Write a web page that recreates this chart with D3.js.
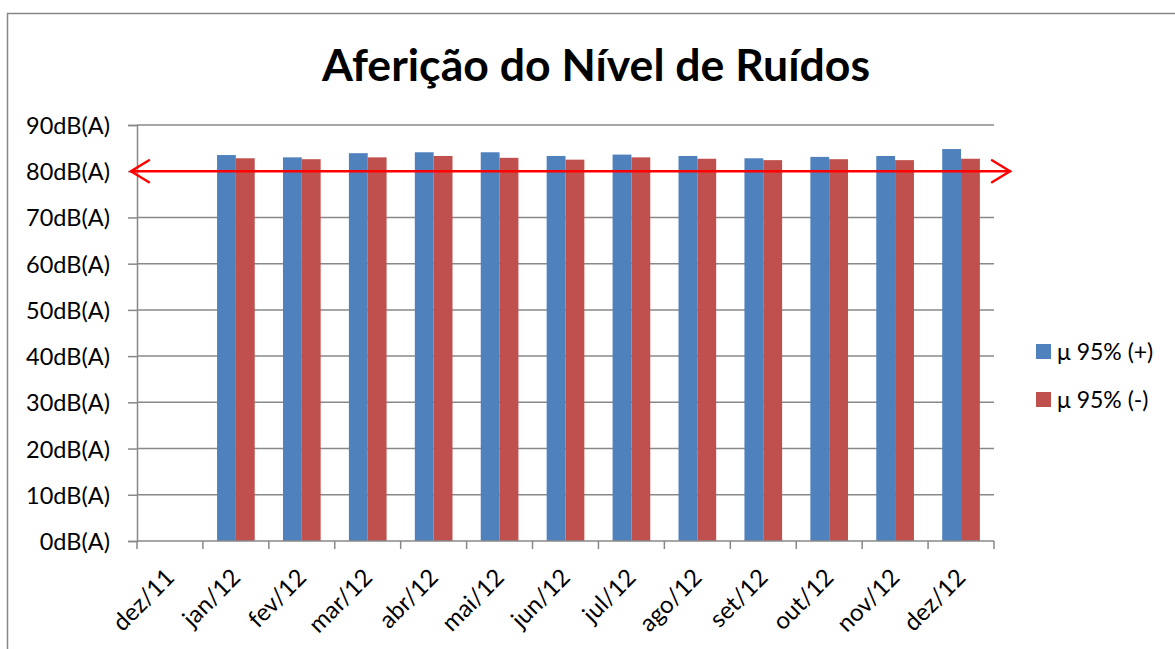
<!DOCTYPE html>
<html>
<head>
<meta charset="utf-8">
<script src="https://cdn.jsdelivr.net/npm/d3@7"></script>
<style>
  body { margin: 0; background: #fff; }
  svg text { font-family: Lato, "Open Sans", sans-serif; fill: #000; }
</style>
</head>
<body>
<svg id="chart" width="1175" height="649"></svg>
<script>
// data
var months = ['dez/11', 'jan/12', 'fev/12', 'mar/12', 'abr/12', 'mai/12', 'jun/12',
              'jul/12', 'ago/12', 'set/12', 'out/12', 'nov/12', 'dez/12'];
var seriesNames = ['μ 95% (+)', 'μ 95% (-)'];
var plusValues  = [null, 83.5, 83.0, 83.9, 84.1, 84.1, 83.3, 83.6, 83.3, 82.8, 83.1, 83.3, 84.8];
var minusValues = [null, 82.8, 82.6, 83.0, 83.3, 82.9, 82.5, 83.0, 82.7, 82.4, 82.6, 82.4, 82.7];
var yTicks = [0, 10, 20, 30, 40, 50, 60, 70, 80, 90];
var limitValue = 80;
var colors = ['#4F81BD', '#C0504D'];

var svg = d3.select('#chart');
var margin = { left: 137, right: 994, top: 125, bottom: 541 };

// outer chart frame
svg.append('rect')
    .attr('x', 7.5).attr('y', 13.5)
    .attr('width', 1175).attr('height', 700)
    .attr('fill', 'none')
    .attr('stroke', '#888').attr('stroke-width', 1.5);

svg.append('text')
    .attr('x', 596).attr('y', 81)
    .attr('text-anchor', 'middle')
    .attr('font-size', 43).attr('font-weight', 'bold')
    .attr('textLength', 548).attr('lengthAdjust', 'spacingAndGlyphs')
    .text('Aferição do Nível de Ruídos');

var x0 = d3.scaleBand().domain(months).range([margin.left, margin.right]).padding(0);
var x1 = d3.scaleBand().domain([0, 1]).range([0, x0.bandwidth()])
    .paddingInner(0).paddingOuter(0.75);
var y = d3.scaleLinear().domain([0, 90]).range([margin.bottom, margin.top]);

// gridlines
svg.append('g').selectAll('line')
    .data(yTicks.slice(1))
    .enter().append('line')
    .attr('x1', margin.left).attr('x2', margin.right)
    .attr('y1', function (d) { return y(d); })
    .attr('y2', function (d) { return y(d); })
    .attr('stroke', '#888').attr('stroke-width', 1.5);

// y axis
var yAxis = svg.append('g')
    .attr('transform', 'translate(' + margin.left + ',0)')
    .call(d3.axisLeft(y).tickValues(yTicks).tickSize(9).tickPadding(18)
        .tickFormat(function (d) { return d + 'dB(A)'; }));
yAxis.select('.domain').attr('stroke', '#888').attr('stroke-width', 1.5);
yAxis.selectAll('.tick line').attr('stroke', '#888').attr('stroke-width', 1.5);
yAxis.selectAll('.tick text')
    .attr('font-size', 23.5).attr('dy', '0.36em')
    .attr('font-family', 'Lato, sans-serif').attr('fill', '#000');

// bars
var seriesData = [plusValues, minusValues];
seriesData.forEach(function (vals, si) {
    svg.append('g').selectAll('rect')
        .data(months.map(function (m, i) { return { m: m, v: vals[i] }; })
            .filter(function (d) { return d.v !== null; }))
        .enter().append('rect')
        .attr('x', function (d) { return x0(d.m) + x1(si); })
        .attr('width', x1.bandwidth())
        .attr('y', function (d) { return y(d.v); })
        .attr('height', function (d) { return y(0) - y(d.v); })
        .attr('fill', colors[si]);
});

// x axis
var bottom = svg.append('g');
bottom.append('line')
    .attr('x1', margin.left).attr('x2', margin.right)
    .attr('y1', y(0)).attr('y2', y(0))
    .attr('stroke', '#888').attr('stroke-width', 1.5);
var edges = months.map(function (m) { return x0(m); }).concat([margin.right]);
bottom.selectAll('.xtick')
    .data(edges)
    .enter().append('line')
    .attr('class', 'xtick')
    .attr('x1', function (d) { return d; }).attr('x2', function (d) { return d; })
    .attr('y1', y(0)).attr('y2', y(0) + 8)
    .attr('stroke', '#888').attr('stroke-width', 1.5);
bottom.selectAll('.xlab')
    .data(months)
    .enter().append('text')
    .attr('class', 'xlab')
    .attr('text-anchor', 'end')
    .attr('font-size', 24)
    .attr('transform', function (d) {
        var cx = x0(d) + x0.bandwidth() / 2 + 6;
        return 'translate(' + cx + ',' + (y(0) + 38) + ') rotate(-45)';
    })
    .text(function (d) { return d; });

// red limit line with open arrowheads
var ly = y(limitValue);
var xl = 131, xr = 1010;
var red = svg.append('g').attr('stroke', '#FF0000').attr('stroke-width', 2.5)
    .attr('fill', 'none').attr('stroke-linecap', 'round');
red.append('line').attr('x1', xl).attr('x2', xr).attr('y1', ly).attr('y2', ly);
red.append('path').attr('d', 'M' + (xl + 18) + ',' + (ly - 11) + 'L' + xl + ',' + ly + 'L' + (xl + 18) + ',' + (ly + 11));
red.append('path').attr('d', 'M' + (xr - 18) + ',' + (ly - 11) + 'L' + xr + ',' + ly + 'L' + (xr - 18) + ',' + (ly + 11));

// legend
var legend = svg.append('g');
seriesNames.forEach(function (name, i) {
    var ty = 344 + i * 48;
    legend.append('rect')
        .attr('x', 1036).attr('y', ty)
        .attr('width', 15).attr('height', 15)
        .attr('fill', colors[i]);
    legend.append('text')
        .attr('x', 1057).attr('y', ty + 16)
        .attr('font-size', 23)
        .text(name);
});
</script>
</body>
</html>
